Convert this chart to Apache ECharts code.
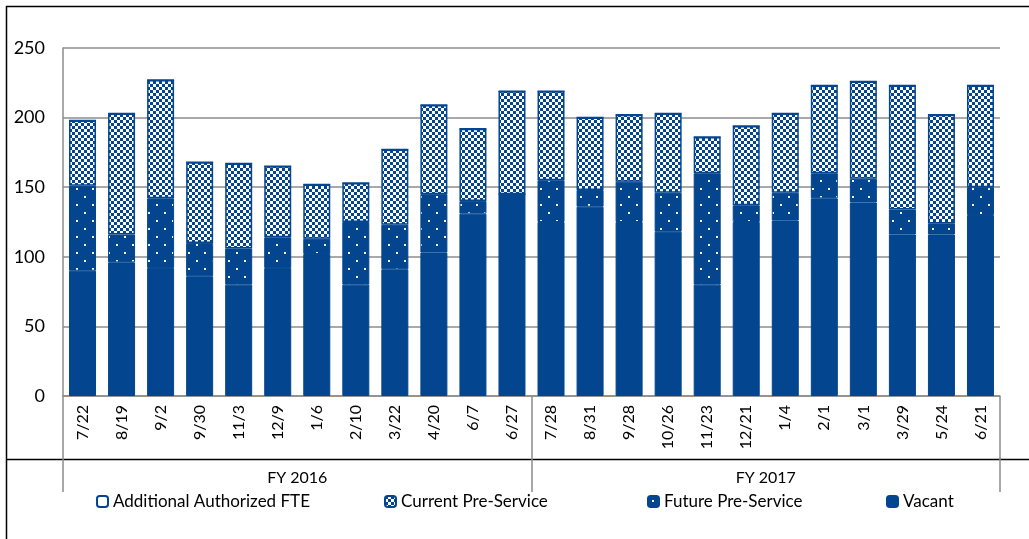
<!DOCTYPE html>
<html>
<head>
<meta charset="utf-8">
<script src="https://cdn.jsdelivr.net/npm/echarts@6/dist/echarts.min.js"></script>
<style>
  html, body { margin: 0; padding: 0; background: #fff; }
  #chart { width: 1029px; height: 539px; }
</style>
</head>
<body>
<div id="chart"></div>
<script>
// dates of each snapshot, grouped by fiscal year
var dates = ['7/22','8/19','9/2','9/30','11/3','12/9','1/6','2/10','3/22','4/20','6/7','6/27',
             '7/28','8/31','9/28','10/26','11/23','12/21','1/4','2/1','3/1','3/29','5/24','6/21'];
var years = ['FY 2016', 'FY 2017'];
var yTicks = [0, 50, 100, 150, 200, 250];

var vacant     = [90, 96, 92, 86, 80, 92, 102, 80, 91, 103, 131, 145, 125, 136, 125, 118, 80, 125, 126, 142, 139, 116, 116, 130];
var futurePre  = [61, 20, 50, 24, 26, 22, 11, 45, 32, 42, 9, 0, 30, 12, 29, 28, 80, 12, 20, 18, 17, 18, 8, 20];
var currentPre = [47, 87, 85, 58, 61, 51, 39, 28, 54, 64, 52, 74, 64, 52, 48, 57, 26, 57, 57, 63, 70, 89, 78, 73];
var additional = [0, 0, 0, 0, 0, 0, 0, 0, 0, 0, 0, 0, 0, 0, 0, 0, 0, 0, 0, 0, 0, 0, 0, 0];

var BLUE = '#03468f';
var GRID = '#8c8c8c';
var FONT = 'Lato';

function checker(){
    var c = document.createElement('canvas');
    c.width = 6; c.height = 6;
    var g = c.getContext('2d');
    g.fillStyle = '#fff'; g.fillRect(0, 0, 6, 6);
    g.fillStyle = BLUE; g.fillRect(0, 0, 3, 3); g.fillRect(3, 3, 3, 3);
    return c;
}

function dots(){
    var c = document.createElement('canvas');
    c.width = 16; c.height = 16;
    var g = c.getContext('2d');
    g.fillStyle = BLUE; g.fillRect(0, 0, 16, 16);
    g.fillStyle = '#fff';
    g.fillRect(4, 4, 2, 2); g.fillRect(12, 12, 2, 2);
    return c;
}

var chart = echarts.init(document.getElementById('chart'));

function legendAt(name, left){
    return {
        data: [name], left: left, top: 493, padding: 0,
        itemWidth: 11, itemHeight: 11, itemGap: 5,
        textStyle: { fontFamily: FONT, fontSize: 17, color: '#000' }
    };
}

var option = {
    animation: false,
    grid: { left: 63, right: 29, top: 48, bottom: 143 },
    legend: [
        legendAt('Additional Authorized FTE', 96),
        legendAt('Current Pre-Service', 384),
        legendAt('Future Pre-Service', 647),
        legendAt('Vacant', 886)
    ],
    xAxis: [{
        type: 'category',
        data: dates,
        position: 'bottom',
        axisLine: { lineStyle: { color: GRID, width: 1.5 } },
        axisTick: { show: false },
        axisLabel: { rotate: 90, margin: 9, interval: 0, color: '#000', fontFamily: FONT, fontSize: 16 }
    }, {
        type: 'category',
        data: years,
        position: 'bottom',
        axisLine: { show: false },
        axisTick: { show: true, length: 96, interval: 0, lineStyle: { color: GRID, width: 1.5 } },
        axisLabel: { margin: 74, color: '#000', fontFamily: FONT, fontSize: 16 }
    }],
    yAxis: {
        type: 'value',
        min: yTicks[0], max: yTicks[yTicks.length - 1], interval: 50,
        axisLine: { show: true, lineStyle: { color: GRID, width: 1.5 } },
        axisTick: { show: false },
        splitLine: { lineStyle: { color: GRID, width: 1.5 } },
        axisLabel: { margin: 18, color: '#000', fontFamily: FONT, fontSize: 18 }
    },
    series: [{
        name: 'Vacant', type: 'bar', stack: 'fte', barWidth: 27,
        itemStyle: { color: BLUE, borderColor: BLUE, borderWidth: 1 },
        data: vacant
    }, {
        name: 'Future Pre-Service', type: 'bar', stack: 'fte', barWidth: 27,
        itemStyle: { color: { image: dots(), repeat: 'repeat' }, borderColor: BLUE, borderWidth: 1 },
        data: futurePre
    }, {
        name: 'Current Pre-Service', type: 'bar', stack: 'fte', barWidth: 27,
        itemStyle: { color: { image: checker(), repeat: 'repeat' }, borderColor: BLUE, borderWidth: 1.5 },
        data: currentPre
    }, {
        name: 'Additional Authorized FTE', type: 'bar', stack: 'fte', barWidth: 27,
        itemStyle: { color: '#fff', borderColor: BLUE, borderWidth: 1.5 },
        data: additional
    }],
    graphic: [{
        type: 'rect',
        shape: { x: 6.5, y: 6.5, width: 1040, height: 560 },
        style: { fill: 'none', stroke: '#000', lineWidth: 1.5 }
    }, {
        type: 'line',
        shape: { x1: 6, y1: 459.5, x2: 1029, y2: 459.5 },
        style: { stroke: '#000', lineWidth: 1.5 }
    }]
};

chart.setOption(option);
</script>
</body>
</html>
